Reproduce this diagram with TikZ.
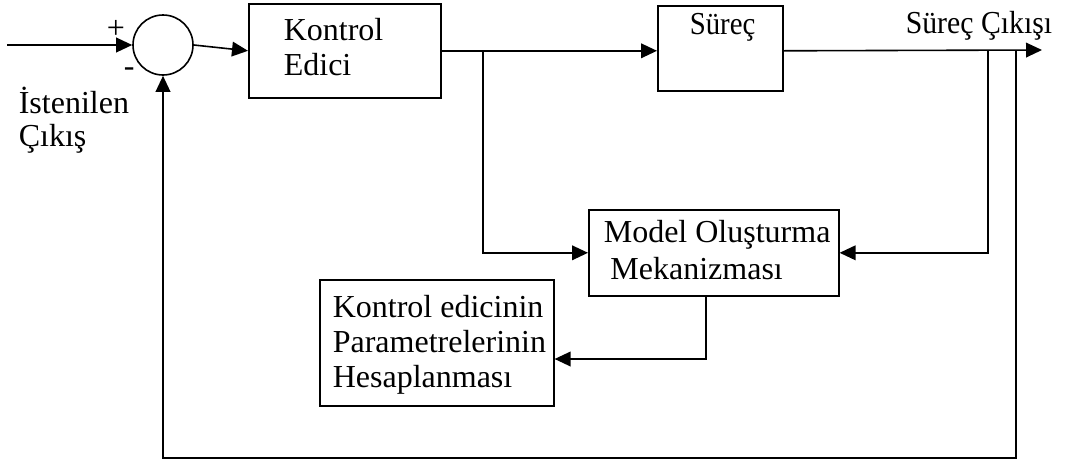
\documentclass[tikz,border=0pt]{standalone}
\usepackage{fontspec}
\usepackage{graphicx}
\setmainfont{Liberation Serif}
\usetikzlibrary{arrows.meta}
\begin{document}
\begin{tikzpicture}[x=0.75pt, y=-0.75pt, line width=1.2pt,
  blk/.style={draw, rectangle, inner sep=0pt, anchor=north west},
  lbl/.style={inner sep=0pt, anchor=base west, align=left},
  sig/.style={-{Triangle[length=12pt, width=11pt]}},
  txt/.style={font=\fontsize{24pt}{#1}\selectfont}]
\useasboundingbox (0,0) rectangle (1069,461);

% blocks
\node[draw, circle, minimum size=45pt, inner sep=0pt] (sum) at (163,45) {};
\node[blk, minimum width=144pt,   minimum height=70.5pt] (ctrl)  at (248,3)   {};
\node[blk, minimum width=93.75pt, minimum height=63.75pt] (proc) at (657,5)   {};
\node[blk, minimum width=187.5pt, minimum height=64.5pt] (model) at (588,209) {};
\node[blk, minimum width=175.5pt, minimum height=94.5pt] (calc)  at (319,279) {};

% texts (multi-line labels are placed by the baseline of their last line)
\node[lbl, txt=26.25pt] (tctrl)  at (283,75)  {Kontrol\\Edici};
\node[lbl, txt=26pt]    (tproc)  at (689,34)  {\scalebox{0.9}[1]{Süreç}};
\node[lbl, txt=26pt]    (tout)   at (905,33)  {\scalebox{0.93}[1]{Süreç Çıkışı}};
\node[lbl, txt=24.75pt] (tref)   at (18,146)  {İstenilen\\Çıkış};
\node[lbl, txt=27.75pt] (tmodel) at (603,279) {Model Oluşturma\\\hspace*{5pt}Mekanizması};
\node[lbl, txt=25.9pt]  (tcalc)  at (332,387) {Kontrol edicinin\\Parametrelerinin\\Hesaplanması};
\node[lbl, txt=26pt]    (plus)   at (106,38)  {+};
\node[lbl, txt=26pt]    (minus)  at (123,76)  {-};

% junction points
\coordinate (in)   at (7,45);
\coordinate (br)   at (483,50);
\coordinate (tap1) at (988,50);
\coordinate (tap2) at (1016,50);
\coordinate (out)  at (1042,50);
\coordinate (low)  at (1016,458);
\coordinate (ms)   at (706,359);

% signal paths
\draw[sig] (in) -- (sum.west);
\draw[sig] (sum.east) -- (ctrl.west);
\draw[sig] (ctrl.east) -- (ctrl.east -| proc.west);
\draw[sig] (proc.east |- ctrl.east) -- (out);
\draw[sig] (br) |- (model.west);
\draw[sig] (tap1) |- (model.east);
\draw[sig] (tap2) -- (low) -| (sum.south);
\draw[sig] (model.south -| ms) |- (calc.east |- ms);
\end{tikzpicture}
\end{document}
